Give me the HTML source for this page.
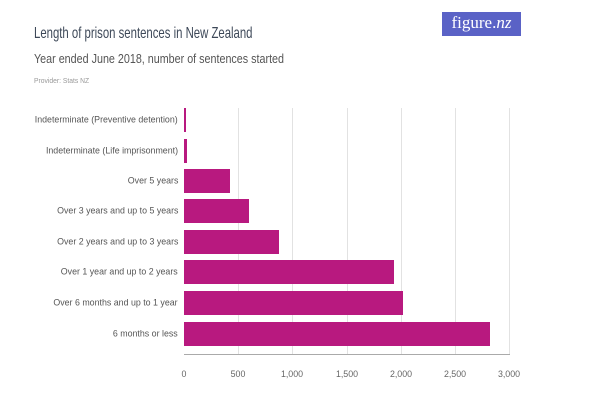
<!DOCTYPE html><html><head><style>
body{margin:0;width:600px;height:403px;background:#fff;font-family:"Liberation Sans",sans-serif;position:relative;overflow:hidden}
.a{position:absolute;white-space:nowrap;transform-origin:0 0}
.l{position:absolute;right:422px;font-size:9.5px;color:#555;white-space:nowrap;transform:translateY(-50%) scaleX(0.93);transform-origin:100% 50%}
.b{position:absolute;left:184px;height:24px;background:#b8197f;transform:translateY(-50%)}
.g{position:absolute;top:108px;height:246px;width:1px;background:#e2e2e2}
.t{position:absolute;top:369px;font-size:9.5px;color:#666;transform:translateX(-50%) scaleX(0.93)}
</style></head><body>
<div class="a" style="left:442px;top:12px;width:79px;height:24px;background:#5a62c6;color:#fff;font-family:'Liberation Serif',serif;font-size:17px;line-height:22px;text-align:center">figure.<i>nz</i></div>
<div class="a" style="left:34px;top:25px;font-size:16px;color:#3d4858;transform:scaleX(0.71)">Length of prison sentences in New Zealand</div>
<div class="a" style="left:34px;top:52px;font-size:12.5px;color:#555;transform:scaleX(0.86)">Year ended June 2018, number of sentences started</div>
<div class="a" style="left:34px;top:76px;font-size:7.5px;color:#999;transform:scaleX(0.9)">Provider: Stats NZ</div>
<div class="g" style="left:238px"></div><div class="g" style="left:292px"></div><div class="g" style="left:347px"></div><div class="g" style="left:401px"></div><div class="g" style="left:455px"></div><div class="g" style="left:509px"></div>
<div class="b" style="top:120px;width:2px"></div>
<div class="b" style="top:151px;width:3px"></div>
<div class="b" style="top:181px;width:46px"></div>
<div class="b" style="top:211px;width:65px"></div>
<div class="b" style="top:242px;width:95px"></div>
<div class="b" style="top:272px;width:210px"></div>
<div class="b" style="top:303px;width:219px"></div>
<div class="b" style="top:334px;width:306px"></div>
<div class="l" style="top:120px">Indeterminate (Preventive detention)</div>
<div class="l" style="top:151px">Indeterminate (Life imprisonment)</div>
<div class="l" style="top:181px">Over 5 years</div>
<div class="l" style="top:211px">Over 3 years and up to 5 years</div>
<div class="l" style="top:242px">Over 2 years and up to 3 years</div>
<div class="l" style="top:272px">Over 1 year and up to 2 years</div>
<div class="l" style="top:303px">Over 6 months and up to 1 year</div>
<div class="l" style="top:334px">6 months or less</div>
<div class="a" style="left:184px;top:354px;width:326px;height:1px;background:#aaa"></div>
<div class="t" style="left:184px">0</div><div class="t" style="left:238px">500</div><div class="t" style="left:292px">1,000</div><div class="t" style="left:347px">1,500</div><div class="t" style="left:401px">2,000</div><div class="t" style="left:455px">2,500</div><div class="t" style="left:509px">3,000</div>
</body></html>
